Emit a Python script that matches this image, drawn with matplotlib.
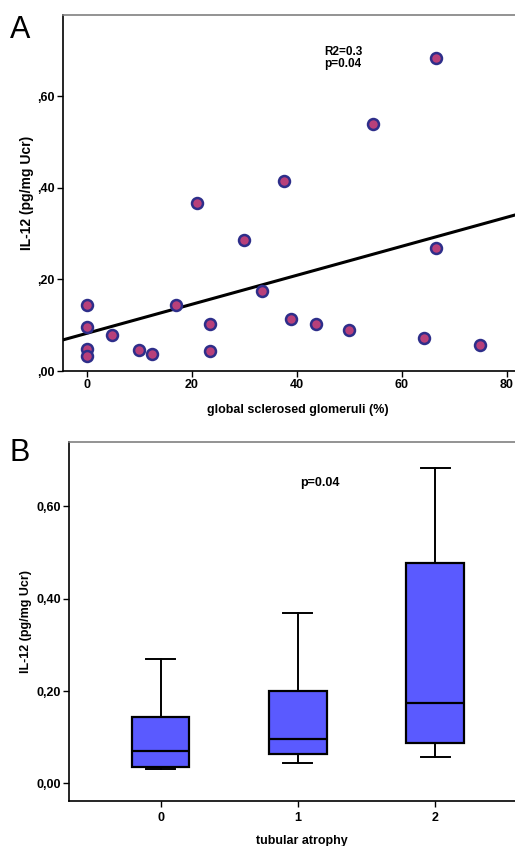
import numpy as np
import matplotlib
matplotlib.use("Agg")
import matplotlib.pyplot as plt

plt.rcParams["font.family"] = ["Liberation Sans", "DejaVu Sans"]

# Panel A data: global sclerosed glomeruli (%) vs IL-12
glom_pct = [0, 0, 0, 0, 4.8, 10.0, 12.5, 17.0, 21.1, 23.5, 23.5, 30.0, 33.3,
            37.5, 38.9, 43.7, 50.0, 54.5, 64.3, 66.6, 66.6, 75.0]
il12_a = [0.144, 0.095, 0.047, 0.032, 0.079, 0.046, 0.037, 0.143, 0.367, 0.102,
          0.044, 0.287, 0.174, 0.414, 0.113, 0.103, 0.090, 0.540, 0.073, 0.683,
          0.269, 0.056]

# Panel B data: box stats per tubular atrophy grade
atrophy_grades = ["0", "1", "2"]
whisker_low = [0.032, 0.045, 0.057]
q1 = [0.035, 0.063, 0.088]
median = [0.070, 0.097, 0.175]
q3 = [0.144, 0.200, 0.477]
whisker_high = [0.269, 0.368, 0.683]

fig = plt.figure(figsize=(5.15, 8.46), dpi=100)

marker_face = "#b8407a"
marker_edge = "#2e2e8a"
box_face = "#5a5aff"


def style_axes(ax):
    ax.spines["top"].set_color("#808080")
    ax.spines["right"].set_visible(False)
    for side in ["left", "bottom"]:
        ax.spines[side].set_linewidth(1.2)
        ax.spines[side].set_color("black")
    ax.spines["top"].set_linewidth(1.2)
    ax.tick_params(direction="out", length=4, width=1, labelsize=9, pad=2)
    for lab in ax.get_xticklabels() + ax.get_yticklabels():
        lab.set_fontweight("bold")


# ---- Panel A ----
axA = fig.add_axes([63 / 515, 1 - 371 / 846, 470 / 515, 356 / 846])
axA.scatter(glom_pct, il12_a, s=62, facecolor=marker_face, edgecolor=marker_edge,
            linewidth=1.8, zorder=3)
slope, intercept = np.polyfit(glom_pct, il12_a, 1)
xl = np.array([-4.5, 85])
axA.plot(xl, intercept + slope * xl, color="black", lw=2.2, zorder=2)
axA.set_xlim(-4.5, 85)
axA.set_ylim(0, 0.777)
axA.set_xticks([0, 20, 40, 60, 80])
axA.set_yticks([0, 0.2, 0.4, 0.6])
axA.set_yticklabels([",00", ",20", ",40", ",60"])
style_axes(axA)
axA.set_xlabel("global sclerosed glomeruli (%)", fontsize=9, fontweight="bold", labelpad=9)
axA.set_ylabel("IL-12 (pg/mg Ucr)", fontsize=10, fontweight="bold", labelpad=2.5)
fig.text(343 / 515, 1 - 58 / 846, "R2=0.3\np=0.04", ha="center", va="center",
         fontsize=8.5, fontweight="bold", linespacing=0.95)
fig.text(10 / 515, 1 - 30 / 846, "A", ha="left", va="center", fontsize=22)

# ---- Panel B ----
axB = fig.add_axes([69 / 515, 1 - 801 / 846, 466 / 515, 359 / 846])
stats = []
for i in range(len(atrophy_grades)):
    stats.append({"whislo": whisker_low[i], "q1": q1[i], "med": median[i],
                  "q3": q3[i], "whishi": whisker_high[i], "fliers": []})
axB.bxp(stats, positions=[0, 1, 2], widths=0.42, patch_artist=True,
        showfliers=False,
        boxprops=dict(facecolor=box_face, edgecolor="black", linewidth=1.6),
        medianprops=dict(color="black", linewidth=1.6),
        whiskerprops=dict(color="black", linewidth=1.4),
        capprops=dict(color="black", linewidth=1.4), capwidths=0.21)
axB.set_xlim(-0.668, 2.728)
axB.set_ylim(-0.038, 0.739)
axB.set_xticks([0, 1, 2])
axB.set_xticklabels(atrophy_grades)
axB.set_yticks([0, 0.2, 0.4, 0.6])
axB.set_yticklabels(["0,00", "0,20", "0,40", "0,60"])
style_axes(axB)
axB.tick_params(axis="x", pad=4)
axB.set_xlabel("tubular atrophy", fontsize=9, fontweight="bold", labelpad=8)
axB.set_ylabel("IL-12 (pg/mg Ucr)", fontsize=9, fontweight="bold", labelpad=3)
fig.text(320 / 515, 1 - 483 / 846, "p=0.04", ha="center", va="center",
         fontsize=9, fontweight="bold")
fig.text(10 / 515, 1 - 453 / 846, "B", ha="left", va="center", fontsize=22)

fig.savefig("out.png", dpi=100)
